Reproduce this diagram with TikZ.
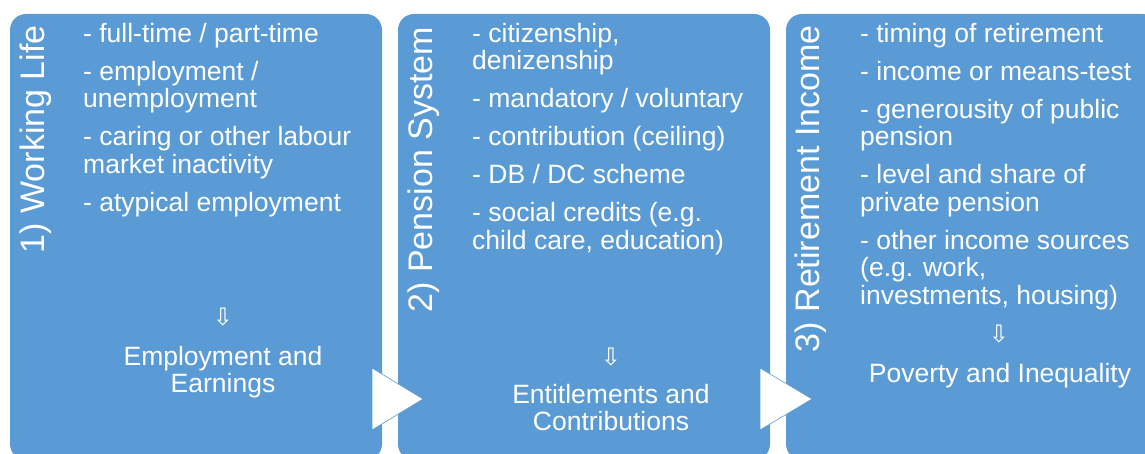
\documentclass[tikz,border=0pt]{standalone}
\usepackage{fontspec}
\setmainfont{Liberation Sans}
\newfontfamily\arrowfont{DejaVu Sans}
\usetikzlibrary{positioning}
\definecolor{panelblue}{HTML}{5B9BD5}

\begin{document}
\begin{tikzpicture}[x=1pt, y=-1pt,
	panel/.style={fill=panelblue, rounded corners=16pt, minimum width=372pt, minimum height=446pt},
	title/.style={text=white, font=\fontsize{34}{36}\selectfont, rotate=90, anchor=east, inner sep=0pt},
	items/.style={text=white, font=\fontsize{26.5}{27.5}\selectfont, align=left, anchor=north west, inner sep=0pt},
	result/.style={text=white, font=\fontsize{26.5}{27.5}\selectfont, align=center, anchor=north, inner sep=0pt},
	downarr/.style={text=white, font=\arrowfont\fontsize{24}{24}\selectfont, inner sep=0pt},
	pointer/.style={fill=white, draw=panelblue, line width=0.6pt}]
	\useasboundingbox (0,0) rectangle (1145,454);
	\clip (0,0) rectangle (1145,454);
	\fill[white] (0,0) rectangle (1145,454);

	% panels
	\node[panel] (P1) at (196,237) {};
	\node[panel] (P2) at (584,237) {};
	\node[panel] (P3) at (972,237) {};

	% titles
	\node[title] (T1) at (36,25) {1) Working Life};
	\node[title] (T2) at (424,27) {2) Pension System};
	\node[title] (T3) at (811,25) {3) Retirement Income};

	% factors
	\node[items] (L1) at (83,22.7) {- full-time / part-time\\[10.5pt]
		- employment /\\unemployment\\[10.5pt]
		- caring or other labour\\market inactivity\\[10.5pt]
		- atypical employment};
	\node[items] (L2) at (472,22.7) {- citizenship,\\denizenship\\[10.5pt]
		- mandatory / voluntary\\[10.5pt]
		- contribution (ceiling)\\[10.5pt]
		- DB / DC scheme\\[10.5pt]
		- social credits (e.g.\\child care, education)};
	\node[items] (L3) at (860,22.7) {- timing of retirement\\[10.5pt]
		- income or means-test\\[10.5pt]
		- generousity of public\\pension\\[10.5pt]
		- level and share of\\private pension\\[10.5pt]
		- other income sources\\(e.g. work,\\investments, housing)};

	% outcomes
	\node[downarr] (A1) at (223,317) {⇩};
	\node[downarr] (A2) at (611,357) {⇩};
	\node[downarr] (A3) at (999,334) {⇩};
	\node[result] (R1) at (223,345.7) {Employment and\\Earnings};
	\node[result] (R2) at (611,383.7) {Entitlements and\\Contributions};
	\node[result] (R3) at (1000,362.7) {Poverty and Inequality};

	% chevrons between panels
	\draw[pointer] (372,368) -- (423,399) -- (372,430) -- cycle;
	\draw[pointer] (760,368) -- (812,399) -- (760,430) -- cycle;
\end{tikzpicture}
\end{document}
